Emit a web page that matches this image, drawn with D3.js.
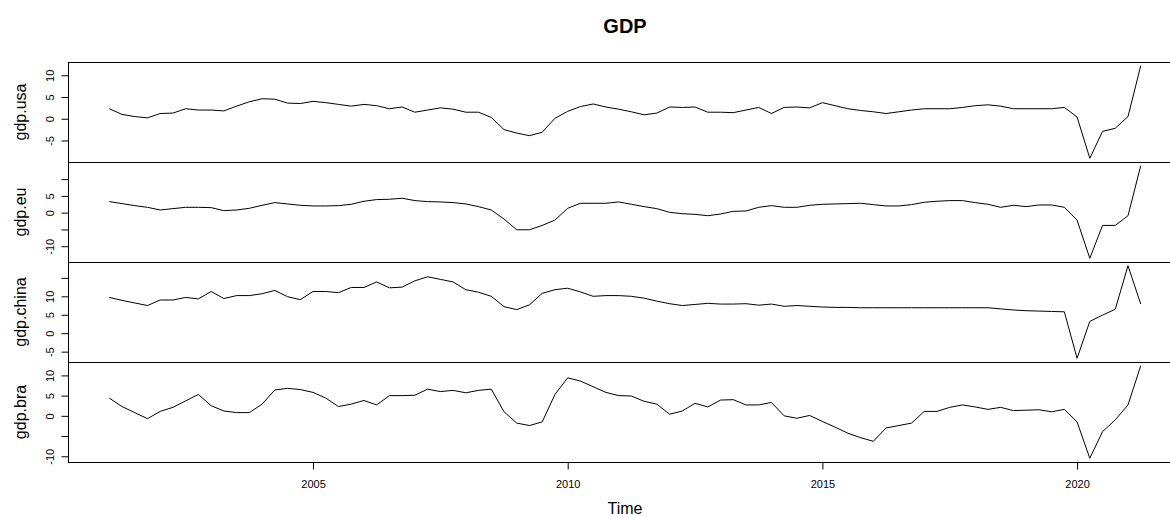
<!DOCTYPE html>
<html>
<head>
<meta charset="utf-8">
<script src="https://cdn.jsdelivr.net/npm/d3@7"></script>
<style>
  html, body { margin: 0; padding: 0; background: #fff; }
  svg { display: block; font-family: "Liberation Sans", Arial, Helvetica, sans-serif; }
</style>
</head>
<body>
<svg id="chart" width="1170" height="517"></svg>
<script>
// Quarterly series, year-on-year GDP growth (%), 2001 Q1 – 2021 Q2
const startYear = 2001;
const periodsPerYear = 4;

const gdpUsa = [
  2.3, 1.0, 0.5, 0.2, 1.2, 1.3, 2.3, 2.0, 2.0, 1.8,
  2.9, 3.9, 4.6, 4.5, 3.6, 3.5, 4.0, 3.7, 3.3, 2.9,
  3.3, 3.0, 2.3, 2.7, 1.5, 2.0, 2.5, 2.2, 1.5, 1.5,
  0.3, -2.5, -3.3, -3.9, -3.1, 0.1, 1.7, 2.8, 3.4, 2.7,
  2.2, 1.6, 0.9, 1.3, 2.7, 2.6, 2.7, 1.5, 1.5, 1.4,
  2.0, 2.6, 1.2, 2.6, 2.7, 2.5, 3.7, 3.0, 2.3, 1.9,
  1.6, 1.2, 1.6, 2.0, 2.3, 2.3, 2.3, 2.6, 3.0, 3.2,
  2.9, 2.3, 2.3, 2.3, 2.3, 2.6, 0.4, -9.1, -2.9, -2.2,
  0.5, 12.2
];

const gdpEu = [
  3.3, 2.7, 2.1, 1.6, 0.8, 1.2, 1.6, 1.6, 1.5, 0.6,
  0.8, 1.3, 2.2, 3.0, 2.6, 2.2, 2.0, 2.0, 2.1, 2.5,
  3.4, 3.9, 4.0, 4.3, 3.6, 3.3, 3.2, 3.0, 2.6, 1.8,
  0.8, -1.9, -5.1, -5.1, -3.8, -2.2, 1.3, 2.8, 2.8, 2.8,
  3.2, 2.5, 1.8, 1.2, 0.1, -0.3, -0.5, -0.9, -0.4, 0.4,
  0.5, 1.6, 2.1, 1.6, 1.6, 2.2, 2.5, 2.6, 2.7, 2.8,
  2.4, 2.0, 2.0, 2.4, 3.1, 3.4, 3.6, 3.6, 3.0, 2.5,
  1.6, 2.2, 1.8, 2.3, 2.3, 1.6, -2.2, -13.6, -3.8, -3.8,
  -0.9, 14.0
];

const gdpChina = [
  9.7, 8.9, 8.2, 7.5, 9.0, 9.0, 9.7, 9.3, 11.3, 9.4,
  10.2, 10.2, 10.7, 11.6, 9.9, 9.1, 11.3, 11.3, 11.0, 12.4,
  12.4, 13.9, 12.3, 12.5, 14.2, 15.3, 14.6, 13.9, 11.8, 11.1,
  10.0, 7.2, 6.4, 7.7, 10.8, 11.8, 12.2, 11.2, 10.0, 10.2,
  10.2, 10.0, 9.5, 8.7, 8.0, 7.5, 7.8, 8.1, 7.9, 7.9,
  8.0, 7.6, 7.9, 7.3, 7.5, 7.3, 7.1, 7.0, 7.0, 6.9,
  6.9, 6.9, 6.9, 6.9, 6.9, 6.9, 6.9, 6.9, 6.9, 6.9,
  6.6, 6.3, 6.1, 6.0, 5.9, 5.8, -6.8, 3.2, 4.9, 6.5,
  18.3, 7.9
];

const gdpBra = [
  4.4, 2.3, 0.8, -0.7, 1.1, 2.1, 3.7, 5.3, 2.5, 1.2,
  0.8, 0.8, 2.9, 6.4, 6.8, 6.5, 5.8, 4.4, 2.3, 2.9,
  3.8, 2.7, 5.0, 5.0, 5.1, 6.6, 6.0, 6.3, 5.7, 6.3,
  6.6, 1.0, -1.8, -2.4, -1.5, 5.3, 9.4, 8.6, 7.2, 5.8,
  5.0, 4.9, 3.6, 2.9, 0.4, 1.2, 3.1, 2.2, 3.9, 4.0,
  2.7, 2.7, 3.3, 0.0, -0.6, 0.1, -1.4, -2.8, -4.3, -5.4,
  -6.3, -3.0, -2.4, -1.8, 1.1, 1.1, 2.1, 2.7, 2.2, 1.6,
  2.1, 1.3, 1.4, 1.5, 1.0, 1.6, -1.5, -10.5, -3.9, -1.0,
  2.7, 12.4
];

const seriesNames = ["gdp.usa", "gdp.eu", "gdp.china", "gdp.bra"];
const seriesValues = [gdpUsa, gdpEu, gdpChina, gdpBra];

// y-axis ticks per panel; empty labels are ticks whose text R drops for overlap
const yTickValues = [
  [-5, 0, 5, 10],
  [-10, -5, 0, 5, 10],
  [-5, 0, 5, 10, 15],
  [-10, -5, 0, 5, 10]
];
const yTickLabels = [
  ["-5", "0", "5", "10"],
  ["-10", "", "0", "5", ""],
  ["-5", "0", "5", "10", ""],
  ["-10", "", "0", "5", "10"]
];

const xTickValues = [2005, 2010, 2015, 2020];
const xTickLabels = ["2005", "2010", "2015", "2020"];

const chartTitle = "GDP";
const xTitle = "Time";

// ---- layout ----
const svg = d3.select("#chart");
svg.append("rect").attr("width", 1170).attr("height", 517).attr("fill", "#fff");

const plotLeft = 68, plotRight = 1182;
const plotTop = 62, panelHeight = 100;

const times = gdpUsa.map((_, i) => startYear + i / periodsPerYear);

// R-style 4% padding around the data range
function padded(ext) {
  const r = ext[1] - ext[0];
  return [ext[0] - 0.04 * r, ext[1] + 0.04 * r];
}

const x = d3.scaleLinear()
  .domain(padded(d3.extent(times)))
  .range([plotLeft, plotRight]);

const clip = svg.append("defs").append("clipPath").attr("id", "plotclip");
clip.append("rect")
  .attr("x", plotLeft).attr("y", plotTop)
  .attr("width", plotRight - plotLeft)
  .attr("height", panelHeight * seriesValues.length);

seriesValues.forEach((vals, k) => {
  const top = plotTop + k * panelHeight;
  const bottom = top + panelHeight;
  const y = d3.scaleLinear().domain(padded(d3.extent(vals))).range([bottom, top]);

  const g = svg.append("g");

  // series line
  const line = d3.line()
    .x((d, i) => x(times[i]))
    .y(d => y(d));
  g.append("path")
    .datum(vals)
    .attr("clip-path", "url(#plotclip)")
    .attr("fill", "none")
    .attr("stroke", "#000")
    .attr("stroke-width", 1)
    .attr("stroke-linejoin", "round")
    .attr("d", line);

  // panel frame
  g.append("rect")
    .attr("x", plotLeft + 0.5).attr("y", top + 0.5)
    .attr("width", plotRight - plotLeft).attr("height", panelHeight)
    .attr("fill", "none").attr("stroke", "#000").attr("stroke-width", 1);

  // y axis with rotated tick labels
  const labels = yTickLabels[k];
  const ya = g.append("g")
    .attr("transform", `translate(${plotLeft + 0.5},0)`)
    .call(d3.axisLeft(y)
      .tickValues(yTickValues[k])
      .tickFormat((d, i) => labels[i])
      .tickSize(7)
      .tickSizeOuter(0));
  ya.select(".domain").remove();
  ya.selectAll(".tick line").attr("stroke", "#000");
  ya.selectAll(".tick text")
    .attr("x", null).attr("dy", null)
    .attr("transform", "translate(-15,0) rotate(-90)")
    .attr("text-anchor", "middle")
    .attr("fill", "#000")
    .style("font-size", "11px")
    .style("font-family", "'Liberation Sans', Arial, sans-serif");

  // panel label
  svg.append("text")
    .attr("transform", `translate(26,${(top + bottom) / 2}) rotate(-90)`)
    .attr("text-anchor", "middle")
    .attr("fill", "#000")
    .style("font-size", "16px")
    .text(seriesNames[k]);

  // time axis under the last panel
  if (k === seriesValues.length - 1) {
    const xa = svg.append("g")
      .attr("transform", `translate(0,${bottom + 0.5})`)
      .call(d3.axisBottom(x)
        .tickValues(xTickValues)
        .tickFormat((d, i) => xTickLabels[i])
        .tickSize(7)
        .tickSizeOuter(0)
        .tickPadding(10.5));
    xa.select(".domain").remove();
    xa.selectAll(".tick line").attr("stroke", "#000");
    xa.selectAll(".tick text")
      .attr("fill", "#000")
      .style("font-size", "11px")
      .style("font-family", "'Liberation Sans', Arial, sans-serif");
  }
});

// titles
svg.append("text")
  .attr("x", (plotLeft + plotRight) / 2)
  .attr("y", 33)
  .attr("text-anchor", "middle")
  .attr("fill", "#000")
  .style("font-size", "20px")
  .style("font-weight", "bold")
  .text(chartTitle);

svg.append("text")
  .attr("x", (plotLeft + plotRight) / 2)
  .attr("y", 514)
  .attr("text-anchor", "middle")
  .attr("fill", "#000")
  .style("font-size", "16px")
  .text(xTitle);
</script>
</body>
</html>
